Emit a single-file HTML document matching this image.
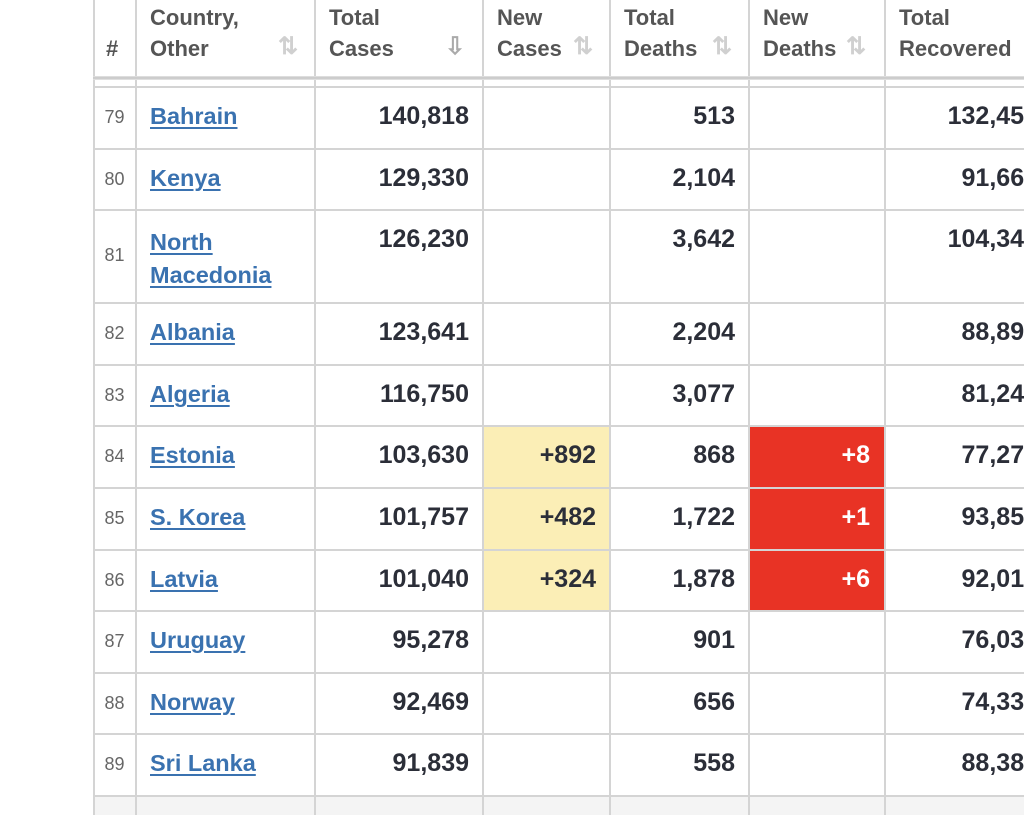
<!DOCTYPE html>
<html><head><meta charset="utf-8"><style>
body{margin:0;width:1024px;height:815px;overflow:hidden;background:#fff;font-family:"Liberation Sans",Arial,sans-serif;position:relative}
.v{position:absolute;top:0;height:815px;width:2px;background:#d4d4d4}
.h{position:absolute;left:93px;right:0;height:2px;background:#d4d4d4}
.t{position:absolute;font-weight:bold;font-size:25px;line-height:26px;color:#2b2e38;white-space:nowrap;margin-top:-1px}
.r{text-align:right}
.n{position:absolute;font-size:18px;color:#666;width:43px;text-align:center;left:93px}
a{color:#3a72b0;text-decoration:underline;text-decoration-thickness:2px;text-underline-offset:3px;font-size:23.5px}
.hd{position:absolute;font-weight:bold;font-size:22px;line-height:31px;color:#555;white-space:nowrap}
.ic{position:absolute;font-size:24px;color:#d0d0d0;font-weight:bold;top:32px}
</style></head><body>
<div style="position:absolute;left:484px;top:427px;width:125px;height:184px;background:#fbeeb6"></div>
<div style="position:absolute;left:750px;top:427px;width:134px;height:184px;background:#e83325"></div>
<div style="position:absolute;left:93px;top:797px;width:931px;height:18px;background:#f4f4f4"></div>
<div class="v" style="left:93px"></div><div class="v" style="left:135px"></div><div class="v" style="left:314px"></div><div class="v" style="left:482px"></div><div class="v" style="left:609px"></div><div class="v" style="left:748px"></div><div class="v" style="left:884px"></div>
<div style="position:absolute;left:93px;right:0;top:76px;height:4px;background:linear-gradient(#e6e6e6,#c4c4c4,#e8e8e8)"></div>
<div class="h" style="top:86px"></div><div class="h" style="top:148px"></div><div class="h" style="top:209px"></div><div class="h" style="top:302px"></div><div class="h" style="top:364px"></div><div class="h" style="top:425px"></div><div class="h" style="top:487px"></div><div class="h" style="top:549px"></div><div class="h" style="top:610px"></div><div class="h" style="top:672px"></div><div class="h" style="top:733px"></div><div class="h" style="top:795px"></div>
<div class="hd" style="left:106px;top:33px">#</div>
<div class="hd" style="left:150px;top:2px">Country,<br>Other</div><div class="ic" style="left:278px">⇅</div>
<div class="hd" style="left:329px;top:2px">Total<br>Cases</div><div class="ic" style="left:445px;color:#aaa">⇩</div>
<div class="hd" style="left:497px;top:2px">New<br>Cases</div><div class="ic" style="left:573px">⇅</div>
<div class="hd" style="left:624px;top:2px">Total<br>Deaths</div><div class="ic" style="left:712px">⇅</div>
<div class="hd" style="left:763px;top:2px">New<br>Deaths</div><div class="ic" style="left:846px">⇅</div>
<div class="hd" style="left:899px;top:2px">Total<br>Recovered</div>
<div class="n" style="top:107px">79</div><div class="t" style="left:150px;top:104px"><a>Bahrain</a></div><div class="t r" style="right:555px;top:104px">140,818</div><div class="t r" style="right:289px;top:104px">513</div><div class="t r" style="right:-14px;top:104px">132,458</div>
<div class="n" style="top:169px">80</div><div class="t" style="left:150px;top:166px"><a>Kenya</a></div><div class="t r" style="right:555px;top:166px">129,330</div><div class="t r" style="right:289px;top:166px">2,104</div><div class="t r" style="right:-14px;top:166px">91,665</div>
<div class="n" style="top:245px">81</div><div class="t" style="left:150px;top:227px;line-height:33px"><a>North</a><br><a>Macedonia</a></div><div class="t r" style="right:555px;top:227px">126,230</div><div class="t r" style="right:289px;top:227px">3,642</div><div class="t r" style="right:-14px;top:227px">104,343</div>
<div class="n" style="top:323px">82</div><div class="t" style="left:150px;top:320px"><a>Albania</a></div><div class="t r" style="right:555px;top:320px">123,641</div><div class="t r" style="right:289px;top:320px">2,204</div><div class="t r" style="right:-14px;top:320px">88,898</div>
<div class="n" style="top:385px">83</div><div class="t" style="left:150px;top:382px"><a>Algeria</a></div><div class="t r" style="right:555px;top:382px">116,750</div><div class="t r" style="right:289px;top:382px">3,077</div><div class="t r" style="right:-14px;top:382px">81,242</div>
<div class="n" style="top:446px">84</div><div class="t" style="left:150px;top:443px"><a>Estonia</a></div><div class="t r" style="right:555px;top:443px">103,630</div><div class="t r" style="right:428px;top:443px">+892</div><div class="t r" style="right:289px;top:443px">868</div><div class="t r" style="right:154px;top:443px;color:#fff">+8</div><div class="t r" style="right:-14px;top:443px">77,277</div>
<div class="n" style="top:508px">85</div><div class="t" style="left:150px;top:505px"><a>S. Korea</a></div><div class="t r" style="right:555px;top:505px">101,757</div><div class="t r" style="right:428px;top:505px">+482</div><div class="t r" style="right:289px;top:505px">1,722</div><div class="t r" style="right:154px;top:505px;color:#fff">+1</div><div class="t r" style="right:-14px;top:505px">93,855</div>
<div class="n" style="top:570px">86</div><div class="t" style="left:150px;top:567px"><a>Latvia</a></div><div class="t r" style="right:555px;top:567px">101,040</div><div class="t r" style="right:428px;top:567px">+324</div><div class="t r" style="right:289px;top:567px">1,878</div><div class="t r" style="right:154px;top:567px;color:#fff">+6</div><div class="t r" style="right:-14px;top:567px">92,013</div>
<div class="n" style="top:631px">87</div><div class="t" style="left:150px;top:628px"><a>Uruguay</a></div><div class="t r" style="right:555px;top:628px">95,278</div><div class="t r" style="right:289px;top:628px">901</div><div class="t r" style="right:-14px;top:628px">76,033</div>
<div class="n" style="top:693px">88</div><div class="t" style="left:150px;top:690px"><a>Norway</a></div><div class="t r" style="right:555px;top:690px">92,469</div><div class="t r" style="right:289px;top:690px">656</div><div class="t r" style="right:-14px;top:690px">74,330</div>
<div class="n" style="top:754px">89</div><div class="t" style="left:150px;top:751px"><a>Sri Lanka</a></div><div class="t r" style="right:555px;top:751px">91,839</div><div class="t r" style="right:289px;top:751px">558</div><div class="t r" style="right:-14px;top:751px">88,381</div>
</body></html>
